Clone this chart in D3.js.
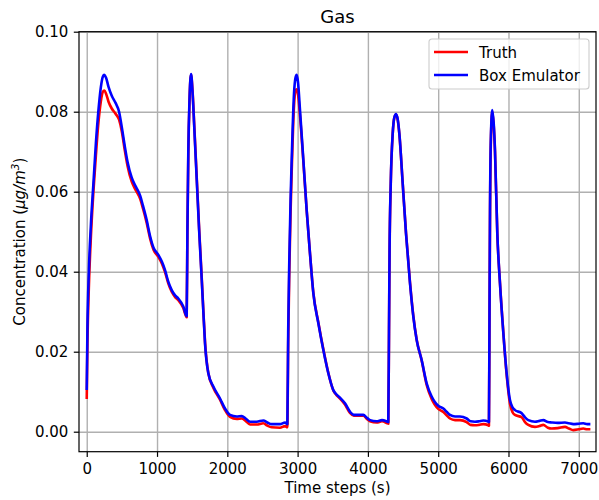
<!DOCTYPE html>
<html>
<head>
<meta charset="utf-8">
<script src="https://cdn.jsdelivr.net/npm/d3@7"></script>
<style>
  body { margin: 0; background: #fff; }
  svg { display: block; font-family: "DejaVu Sans", sans-serif; }
  .tick text { font-size: 15px; fill: #000; }
  .tick line { stroke: #000; stroke-width: 1.2; }
  .grid line { stroke: #b0b0b0; stroke-width: 1.4; }
  .grid path { display: none; }
</style>
</head>
<body>
<svg id="chart" width="599" height="500"></svg>
<script>
// time steps (s) shared by both series
const timeSteps = [
  0, 10, 30, 60, 95, 130, 165, 200, 230, 250, 275, 310, 356, 410, 460, 500, 540, 580, 640, 700,
  760, 800, 853, 900, 950, 1019, 1070, 1114, 1160, 1209, 1260, 1303, 1374, 1422,
  1432, 1445, 1462, 1484, 1505, 1530, 1565, 1600, 1636, 1659, 1683, 1730, 1801, 1896, 1967, 2038,
  2134, 2205, 2260, 2323, 2418, 2513, 2570, 2631, 2750, 2821, 2854,
  2866, 2882, 2900, 2916, 2949, 2970, 2987, 3005, 3034, 3082, 3129, 3176, 3224, 3295, 3366, 3437,
  3508, 3560, 3603, 3674, 3745, 3800, 3870, 3935, 3985, 4030, 4125, 4200, 4276, 4290,
  4300, 4308, 4325, 4353, 4375, 4400, 4425, 4447, 4495, 4542, 4599, 4646, 4694, 4765, 4836, 4907,
  4950, 5001, 5073, 5120, 5168, 5240, 5310, 5405, 5460, 5523, 5580, 5641, 5713, 5722,
  5730, 5737, 5750, 5770, 5790, 5808, 5841, 5879, 5927, 5974, 6021, 6060, 6093, 6188, 6235, 6282,
  6377, 6440, 6495, 6560, 6614, 6700, 6804, 6860, 6922, 7000, 7064, 7120, 7165
];

const truthValues = [
  0.0082, 0.022, 0.036, 0.049, 0.060, 0.069, 0.077, 0.0825, 0.0850, 0.0853, 0.0845, 0.0825, 0.0808, 0.0795, 0.0780, 0.0750, 0.0705, 0.0665, 0.0625, 0.0603,
  0.0582, 0.0558, 0.0522, 0.0484, 0.0455, 0.0437, 0.0420, 0.0399, 0.0371, 0.0350, 0.0336, 0.0329, 0.0309, 0.0286,
  0.049, 0.069, 0.0825, 0.0892, 0.0852, 0.0765, 0.0635, 0.0505, 0.0385, 0.0303, 0.0224, 0.0146, 0.0110, 0.0080, 0.0054, 0.0037,
  0.0032, 0.0033, 0.0027, 0.0018, 0.0018, 0.0021, 0.0015, 0.0011, 0.0010, 0.0014, 0.0011,
  0.022, 0.040, 0.055, 0.065, 0.0815, 0.0852, 0.0856, 0.0845, 0.0790, 0.0675, 0.0553, 0.0446, 0.0347, 0.0273, 0.0206, 0.0147,
  0.0103, 0.0090, 0.0083, 0.0068, 0.0047, 0.0040, 0.0040, 0.0040, 0.0032, 0.0026, 0.0023, 0.0026, 0.0021, 0.0020,
  0.024, 0.044, 0.0618, 0.0745, 0.0784, 0.0793, 0.0779, 0.0745, 0.0621, 0.0497, 0.0373, 0.0290, 0.0230, 0.0178, 0.0117, 0.0082,
  0.0068, 0.0057, 0.0049, 0.0041, 0.0033, 0.0029, 0.0029, 0.0024, 0.0017, 0.0016, 0.0017, 0.0019, 0.0016, 0.0015,
  0.028, 0.053, 0.073, 0.0800, 0.0765, 0.0700, 0.0495, 0.0372, 0.0248, 0.0142, 0.0070, 0.0048, 0.0042, 0.0036, 0.0024, 0.0017,
  0.0012, 0.0014, 0.0017, 0.0010, 0.0008, 0.0009, 0.0012, 0.0008, 0.0004, 0.0006, 0.0008, 0.0006, 0.0006
];

const emulatorValues = [
  0.0104, 0.026, 0.040, 0.052, 0.062, 0.072, 0.080, 0.0860, 0.0888, 0.0892, 0.0885, 0.0862, 0.0840, 0.0822, 0.0800, 0.0760, 0.0715, 0.0675, 0.0635, 0.0612,
  0.0590, 0.0565, 0.0529, 0.0490, 0.0460, 0.0442, 0.0425, 0.0404, 0.0375, 0.0354, 0.0340, 0.0333, 0.0313, 0.0289,
  0.050, 0.070, 0.083, 0.0894, 0.085, 0.076, 0.063, 0.050, 0.038, 0.030, 0.022, 0.0146, 0.0113, 0.0083, 0.0058, 0.0042,
  0.0038, 0.0039, 0.0033, 0.0025, 0.0025, 0.0028, 0.0023, 0.0019, 0.0019, 0.0023, 0.0019,
  0.025, 0.043, 0.058, 0.068, 0.0846, 0.0885, 0.0892, 0.0875, 0.0804, 0.0679, 0.0554, 0.0446, 0.0346, 0.0271, 0.0204, 0.0146,
  0.0104, 0.0092, 0.0085, 0.0071, 0.0050, 0.0042, 0.0042, 0.0042, 0.0035, 0.0029, 0.0026, 0.0029, 0.0025, 0.0024,
  0.025, 0.045, 0.0621, 0.0746, 0.0785, 0.0794, 0.0780, 0.0746, 0.0621, 0.0496, 0.0371, 0.0288, 0.0229, 0.0179, 0.0121, 0.0088,
  0.0075, 0.0065, 0.0058, 0.0050, 0.0042, 0.0038, 0.0038, 0.0033, 0.0026, 0.0025, 0.0026, 0.0028, 0.0025, 0.0024,
  0.030, 0.055, 0.074, 0.0804, 0.077, 0.0704, 0.0496, 0.0371, 0.0246, 0.0146, 0.0079, 0.0060, 0.0054, 0.0046, 0.0036, 0.0029,
  0.0025, 0.0027, 0.0029, 0.0024, 0.0023, 0.0022, 0.0023, 0.0021, 0.0019, 0.0020, 0.0021, 0.0019, 0.0019
];

const xTicks = [0, 1000, 2000, 3000, 4000, 5000, 6000, 7000];
const yTicks = [0.00, 0.02, 0.04, 0.06, 0.08, 0.10];

const seriesNames = ["Truth", "Box Emulator"];
const seriesColors = ["#ff0000", "#0000ff"];

const svg = d3.select("#chart");
const margin = { left: 79, right: 3, top: 31.7, bottom: 48.3 };
const width = 599 - margin.left - margin.right;
const height = 500 - margin.top - margin.bottom;

const x = d3.scaleLinear().domain([-110, 7245]).range([0, width]);
const y = d3.scaleLinear().domain([-0.005, 0.10]).range([height, 0]);

const g = svg.append("g").attr("transform", `translate(${margin.left},${margin.top})`);

// grid lines
g.append("g").attr("class", "grid")
    .attr("transform", `translate(0,${height})`)
    .call(d3.axisBottom(x).tickValues(xTicks).tickSize(-height).tickFormat(""));
g.append("g").attr("class", "grid")
    .call(d3.axisLeft(y).tickValues(yTicks).tickSize(-width).tickFormat(""));

// series lines
const line = d3.line()
    .x(d => x(d[0]))
    .y(d => y(d[1]))
    .curve(d3.curveMonotoneX);

const series = [truthValues, emulatorValues];
series.forEach(function (vals, i) {
    const pts = timeSteps.map((t, j) => [t, vals[j]]);
    g.append("path")
        .datum(pts)
        .attr("d", line)
        .attr("fill", "none")
        .attr("stroke", seriesColors[i])
        .attr("stroke-width", 2.6)
        .attr("stroke-linejoin", "round");
});

// axes
const xAxis = g.append("g")
    .attr("transform", `translate(0,${height})`)
    .call(d3.axisBottom(x).tickValues(xTicks).tickSize(5.2).tickPadding(6).tickFormat(d3.format("d")));
const yAxis = g.append("g")
    .call(d3.axisLeft(y).tickValues(yTicks).tickSize(5.2).tickPadding(5.5).tickFormat(d3.format(".2f")));
[xAxis, yAxis].forEach(a => {
    a.select(".domain").remove();
    a.selectAll("text").attr("font-family", "DejaVu Sans");
});

// frame
g.append("rect")
    .attr("width", width).attr("height", height)
    .attr("fill", "none").attr("stroke", "#000").attr("stroke-width", 1.2);

// title and labels
svg.append("text")
    .attr("x", margin.left + width / 2).attr("y", 22.5)
    .attr("text-anchor", "middle")
    .attr("font-size", 18)
    .text("Gas");

svg.append("text")
    .attr("x", margin.left + width / 2).attr("y", 493)
    .attr("text-anchor", "middle")
    .attr("font-size", 15)
    .text("Time steps (s)");

const yl = svg.append("text")
    .attr("transform", `translate(24.5,${margin.top + height / 2}) rotate(-90)`)
    .attr("text-anchor", "middle")
    .attr("font-size", 15);
yl.append("tspan").text("Concentration (");
yl.append("tspan").attr("font-style", "italic").text("μg/m");
yl.append("tspan").attr("font-style", "italic").attr("font-size", 10.5).attr("dy", -6).text("3");
yl.append("tspan").attr("dy", 6).text(")");

// legend
const legend = svg.append("g").attr("transform", "translate(429,39)");
legend.append("rect")
    .attr("width", 160).attr("height", 50)
    .attr("rx", 3).attr("ry", 3)
    .attr("fill", "#fff").attr("fill-opacity", 0.8)
    .attr("stroke", "#cccccc").attr("stroke-width", 1.1);
seriesNames.forEach(function (name, i) {
    const ly = 13 + i * 23;
    legend.append("line")
        .attr("x1", 5).attr("x2", 39)
        .attr("y1", ly).attr("y2", ly)
        .attr("stroke", seriesColors[i]).attr("stroke-width", 2.6);
    legend.append("text")
        .attr("x", 50).attr("y", ly + 5.5)
        .attr("font-size", 15)
        .text(name);
});
</script>
</body>
</html>
